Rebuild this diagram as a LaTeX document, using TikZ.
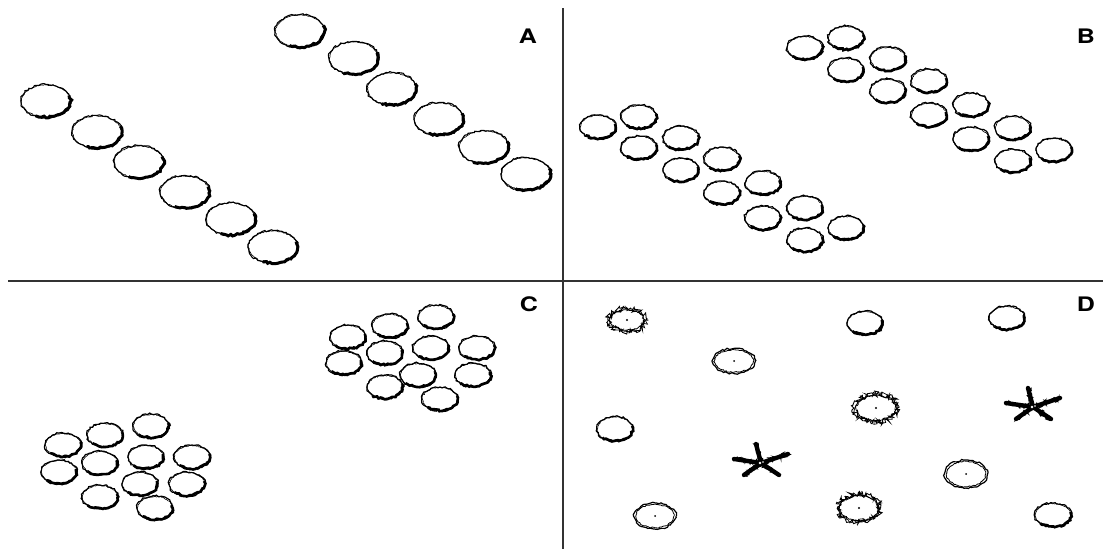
\documentclass[tikz,border=0pt]{standalone}
\usepackage{fontspec}
\setsansfont{TeX Gyre Heros}
\usetikzlibrary{decorations.pathmorphing}
\pgfmathsetseed{7}
\tikzset{
  rough/.style={decorate, decoration={random steps, segment length=2.2pt, amplitude=0.9pt}},
  fine/.style={decorate, decoration={random steps, segment length=1.4pt, amplitude=0.6pt}},
  spiky/.style={decorate, decoration={random steps, segment length=1.5pt, amplitude=3pt}},
  hairy/.style={decorate, decoration={random steps, segment length=1.1pt, amplitude=3pt}},
  panellabel/.style={font=\sffamily\bfseries\fontsize{20}{20}\selectfont, inner sep=0pt},
  divider/.style={line width=2pt, draw=black!80},
  pics/ringA/.style={code={
    \draw[rough, line width=1.1pt] (0,0) ellipse [x radius=25, y radius=16.5];
    \draw[fine, line width=0.6pt] (0,0) ellipse [x radius=24.5, y radius=16];
    \draw[rough, line width=3pt] (-20:24.5 and 16) arc[start angle=-20, end angle=115, x radius=24.5, y radius=16];
  }},
  pics/ringB/.style n args={2}{code={
    \draw[rough, line width=1.2pt] (0,0) ellipse [x radius=#1, y radius=#2];
    \draw[fine, line width=0.6pt] (0,0) ellipse [x radius=#1-0.5, y radius=#2-0.5];
    \draw[rough, line width=2.6pt] (-15:#1-0.5 and #2-0.5) arc[start angle=-15, end angle=135, x radius=#1-0.5, y radius=#2-0.5];
  }},
  pics/burst/.style n args={2}{code={
    \draw[spiky, line width=0.9pt] (0,0) ellipse [x radius=#1-1, y radius=#2-1];
    \draw[spiky, line width=0.7pt] (0,0) ellipse [x radius=#1-2, y radius=#2-1.5];
    \draw[fine, line width=0.8pt] (0,0) ellipse [x radius=#1-3, y radius=#2-2.5];
    \fill (0,0) circle [radius=1.2];
  }},
  pics/ringdot/.style n args={2}{code={
    \draw[rough, line width=1.2pt] (0,0) ellipse [x radius=#1, y radius=#2];
    \draw[fine, line width=0.8pt] (0,0) ellipse [x radius=#1-2, y radius=#2-1.3];
    \fill (0,0) circle [radius=1];
  }},
  pics/starfish/.style={code={
    \foreach \t in {(-5,-19),(-27,-4),(27,-9),(-17,12),(18,12)} {
      \draw[line width=4.4pt, line cap=round] (0,0) -- \t;
      \draw[hairy, line width=1pt] (0,0) -- \t;
    }
    \fill[white] (-1,0) circle [radius=1.3];
    \fill[white] (2,-1) circle [radius=0.9];
  }},
}
\begin{document}
\begin{tikzpicture}[x=1pt, y=-1pt]
\fill[white] (0,0) rectangle (1103,549);
\useasboundingbox (0,0) rectangle (1103,549);

% dividers
\coordinate (vtop) at (563,8);
\coordinate (vbot) at (563,549);
\coordinate (hleft) at (8,281);
\coordinate (hright) at (1103,281);
\draw[divider] (vtop) -- (vbot);
\draw[divider] (hleft) -- (hright);

% labels
\node[panellabel] (labA) at (528,36) {\scalebox{1.25}[1]{A}};
\node[panellabel] (labB) at (1086,36) {\scalebox{1.25}[1]{B}};
\node[panellabel] (labC) at (529,304) {\scalebox{1.25}[1]{C}};
\node[panellabel] (labD) at (1086,304) {\scalebox{1.25}[1]{D}};

% panel A
\foreach \p in {(46,101),(97,132),(139,162),(185,192),(231,219),(273,247),
                (300,31),(354,58),(392,89),(439,119),(484,147),(526,174)}
  \pic at \p {ringA};

% panel B
\foreach \p in {(639,117),(681,138),(722,159),(763,183),(805,208),(846,228),
                (598,127),(639,148),(681,170),(722,193),(763,218),(805,240),
                (846,38),(888,59),(929,81),(971,105),(1013,128),(1054,150),
                (805,48),(846,70),(888,91),(929,115),(971,139),(1013,161)}
  \pic at \p {ringB={18}{12}};

% panel C
\foreach \p in {(63,445),(105,435),(151,426),(59,472),(100,463),(146,457),(192,457),
                (100,497),(140,484),(187,484),(155,508),
                (348,337),(390,326),(436,317),(344,363),(385,353),(431,348),(477,348),
                (385,387),(418,375),(473,375),(440,399)}
  \pic at \p {ringB={18}{12}};

% panel D
\pic at (627,320) {burst={20}{12.5}};
\pic at (876,408) {burst={23}{15}};
\pic at (859,508) {burst={22.5}{15}};
\pic at (734,361) {ringdot={21.5}{12.5}};
\pic at (655,516) {ringdot={21}{13}};
\pic at (966,474) {ringdot={21.5}{14}};
\pic at (615,429) {ringB={18}{12.5}};
\pic at (865,323) {ringB={18}{12}};
\pic at (1007,318) {ringB={18}{12}};
\pic at (1053,515) {ringB={18.5}{12}};
\pic at (761,463) {starfish};
\pic at (1033,407) {starfish};
\end{tikzpicture}
\end{document}
